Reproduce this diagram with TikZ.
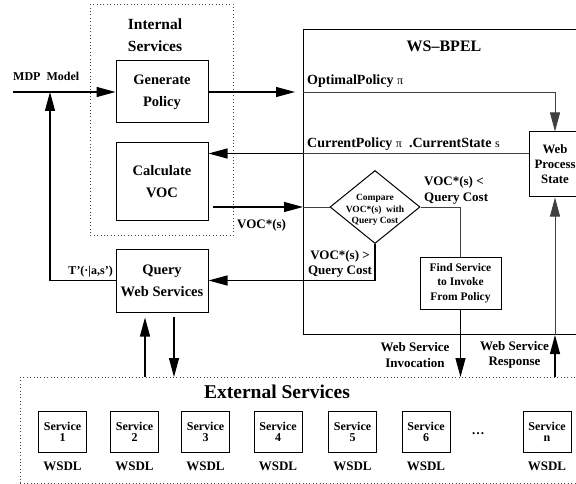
\documentclass[tikz,border=0pt]{standalone}
\usepackage{fontspec}
\setmainfont{Liberation Serif}
\usetikzlibrary{arrows.meta,shapes.geometric,positioning}
\begin{document}
\begin{tikzpicture}[x=1pt,y=-1pt,
  box/.style={draw,line width=1pt,align=center,inner sep=0pt,font=\fontsize{14.5}{22}\selectfont\bfseries},
  svc/.style={draw,line width=1pt,minimum width=48pt,minimum height=41pt,inner sep=0pt,align=center,font=\fontsize{12}{11}\selectfont\bfseries},
  lbl/.style={inner sep=0pt,align=center,font=\fontsize{13}{15.5}\selectfont\bfseries},
  tip/.style={-{Triangle[length=19pt,width=10pt]}},
  arr/.style={line width=1.2pt,tip},
  wire/.style={line width=0.9pt,black!75},
  dotbox/.style={draw,black!75,line width=0.8pt,dash pattern=on 0.8pt off 2.6pt,inner sep=0pt}]
  \clip (0,0) rectangle (576,484);

  % containers
  \node[dotbox,anchor=north west,minimum width=143pt,minimum height=231pt] (intl) at (90,4) {};
  \node[draw,line width=1pt,anchor=north west,minimum width=300pt,minimum height=305pt,inner sep=0pt] (bpel) at (303,29) {};
  \node[dotbox,anchor=north west,minimum width=600pt,minimum height=106pt] (ext) at (20,377) {};
  \node[lbl,font=\fontsize{15.5}{22}\selectfont\bfseries] (intlT) at (155,35) {Internal\\Services};
  \node[lbl,font=\fontsize{16}{18}\selectfont\bfseries] (bpelT) at (444,46) {WS--BPEL};
  \node[lbl,font=\fontsize{19.5}{22}\selectfont\bfseries] (extT) at (277,392) {External Services};

  % internal services
  \node[box,minimum width=92pt,minimum height=62pt] (gen) at (162,92) {Generate\\Policy};
  \node[box,minimum width=92pt,minimum height=77pt] (voc) at (162,181.5) {Calculate\\VOC};
  \node[box,minimum width=92pt,minimum height=63pt] (qws) at (162,280.5) {Query\\Web Services};

  % ws-bpel
  \node[box,font=\fontsize{12.8}{15}\selectfont\bfseries,minimum width=52pt,minimum height=65pt] (wps) at (555,164.5) {Web\\Process\\State};
  \node[diamond,draw,line width=1pt,inner sep=0pt,minimum width=90pt,minimum height=73pt,
    label={[lbl,yshift=-3pt,font=\fontsize{9.5}{11.5}\selectfont\bfseries]center:{Compare\\VOC*(s)~~with\\Query Cost}}] (cmp) at (375,207) {};
  \node[box,font=\fontsize{11.5}{14.5}\selectfont\bfseries,minimum width=81pt,minimum height=52pt] (find) at (460.5,283) {Find Service\\to Invoke\\From Policy};

  % external services
  \foreach \i/\x in {1/62.5,2/134.5,3/205.5,4/278,5/352.5,6/426,n/547}{
    \node[svc] (s\i) at (\x,431.5) {Service\\\i};
    \node[lbl] (w\i) at (\x,466) {WSDL};
  }
  \node[lbl] (dots) at (478,434) {\dots};

  \coordinate (mdp) at (13,92);
  \coordinate (tq) at (50,92);
  \draw[arr] (mdp) -- (gen.west);
  \node[lbl,font=\fontsize{12}{14}\selectfont\bfseries,anchor=base west] (mdpL) at (13,81) {MDP~~Model};

  \coordinate (opIn) at (gen.east -| bpel.west);
  \draw[arr,shorten >=8pt] (gen.east) -- (opIn);
  \draw[wire,tip] (opIn) -| (wps.north);
  \node[lbl,font=\fontsize{14}{16}\selectfont\bfseries,anchor=base west] (opL) at (307,85) {OptimalPolicy {\mdseries\fontsize{12}{14}\selectfont π}};

  \coordinate (cp) at ([yshift=11pt]wps.west);
  \draw[wire] (cp) -- (cp -| bpel.west);
  \draw[arr] (cp -| bpel.west) -- (cp -| voc.east);
  \node[lbl,font=\fontsize{14}{16}\selectfont\bfseries,anchor=base west] (cpL) at (307,148) {CurrentPolicy {\mdseries\fontsize{12}{14}\selectfont π}~~.CurrentState {\mdseries\fontsize{12}{14}\selectfont s}};

  \coordinate (vs) at ([yshift=-25.5pt]voc.east);
  \draw[arr] ([xshift=4pt]vs) -- (vs -| bpel.west);
  \draw[wire] (vs -| bpel.west) -- (cmp.west);
  \node[lbl,anchor=base west] (vsL) at (237,228) {VOC*(s)};

  \draw[wire] (cmp.east) -| (find.north);
  \node[lbl,align=left,anchor=west] (ltL) at (424,190.5) {VOC*(s) <\\Query Cost};
  \draw[arr] (cmp.south) |- (qws.east);
  \node[lbl] (gtL) at (340,264) {VOC*(s) >\\Query Cost};

  \draw[arr] (find.south) -- (find.south |- ext.north);
  \node[lbl] (invL) at (415,355) {Web Service\\Invocation};
  \coordinate (resp) at (wps.south |- ext.north);
  \draw[arr] (resp) -- (resp |- bpel.south);
  \draw[wire,tip] (resp |- bpel.south) -- (wps.south);
  \node[lbl] (respL) at (514.5,355) {Web Service\\Response};

  \draw[arr] (qws.west) -| (tq);
  \node[lbl,font=\fontsize{12}{14}\selectfont\bfseries,anchor=base east] (tL) at (113,274) {T'(·|a,s')};

  \coordinate (qup) at ([xshift=-17pt,yshift=-5pt]qws.south);
  \coordinate (qdn) at ([xshift=12pt,yshift=-4pt]qws.south);
  \draw[arr] (qup |- ext.north) -- (qup);
  \draw[arr] (qdn) -- (qdn |- ext.north);
\end{tikzpicture}
\end{document}
